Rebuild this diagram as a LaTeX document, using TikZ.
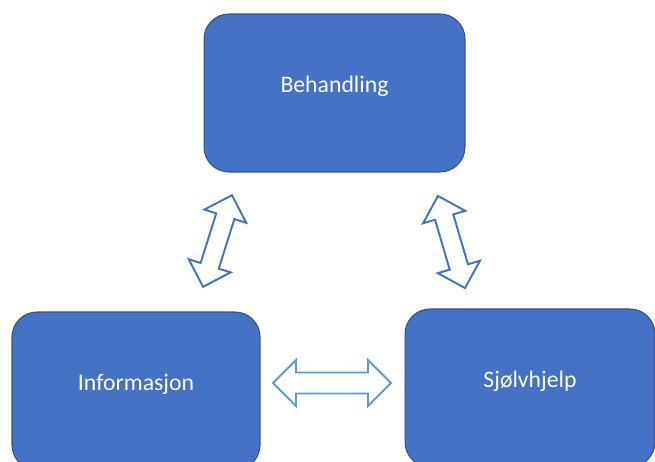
\documentclass[tikz,border=0pt]{standalone}
\usepackage{fontspec}
\setmainfont{Carlito}
\definecolor{areablue}{RGB}{68,114,196}
\definecolor{areaedge}{RGB}{47,82,143}
\definecolor{linklight}{RGB}{91,155,213}
% hollow double block arrow along the local x axis:
% #1 style, #2 length, #3 head half width (= head length), #4 shaft half width
\newcommand{\blockarrow}[4]{%
  \draw[#1] (-#2/2,0) -- ++(#3,#3) -- ++(0,-#3+#4) -- (#2/2-#3,#4)
    -- ++(0,#3-#4) -- (#2/2,0) -- ++(-#3,-#3) -- ++(0,#3-#4)
    -- (-#2/2+#3,-#4) -- ++(0,-#3+#4) -- cycle;}

\begin{document}
\begin{tikzpicture}[
  x=0.02cm,y=0.02cm,
  area/.style={fill=areablue,draw=areaedge,line width=0.6pt,rounded corners=0.5cm,
    minimum height=3.16cm,text=white,text height=8pt,text depth=8.3pt,
    font=\fontsize{13.5}{16}\selectfont},
  link/.style={draw=areablue,fill=white,line width=1.1pt}
]
\clip (0,0) rectangle (655,461);

\node[area,minimum width=5.22cm] (behandling) at (334.5,368) {Behandling};
\node[area,minimum width=4.96cm] (informasjon) at (136,70) {Informasjon};
\node[area,minimum width=5cm] (selvhjelp) at (530,73) {Sjølvhjelp};

% block arrows between the areas
\coordinate (linkleft) at (217.5,220);
\coordinate (linkright) at (451.5,219);
\coordinate (linkbottom) at (332,78);
\begin{scope}[shift={(linkleft)},rotate=72.5]
  \blockarrow{link}{96}{22}{9.5}
\end{scope}
\begin{scope}[shift={(linkright)},rotate=-73.6]
  \blockarrow{link}{96}{22}{9.5}
\end{scope}
\begin{scope}[shift={(linkbottom)}]
  \blockarrow{link,draw=linklight}{118}{23}{10.5}
\end{scope}
\end{tikzpicture}
\end{document}
